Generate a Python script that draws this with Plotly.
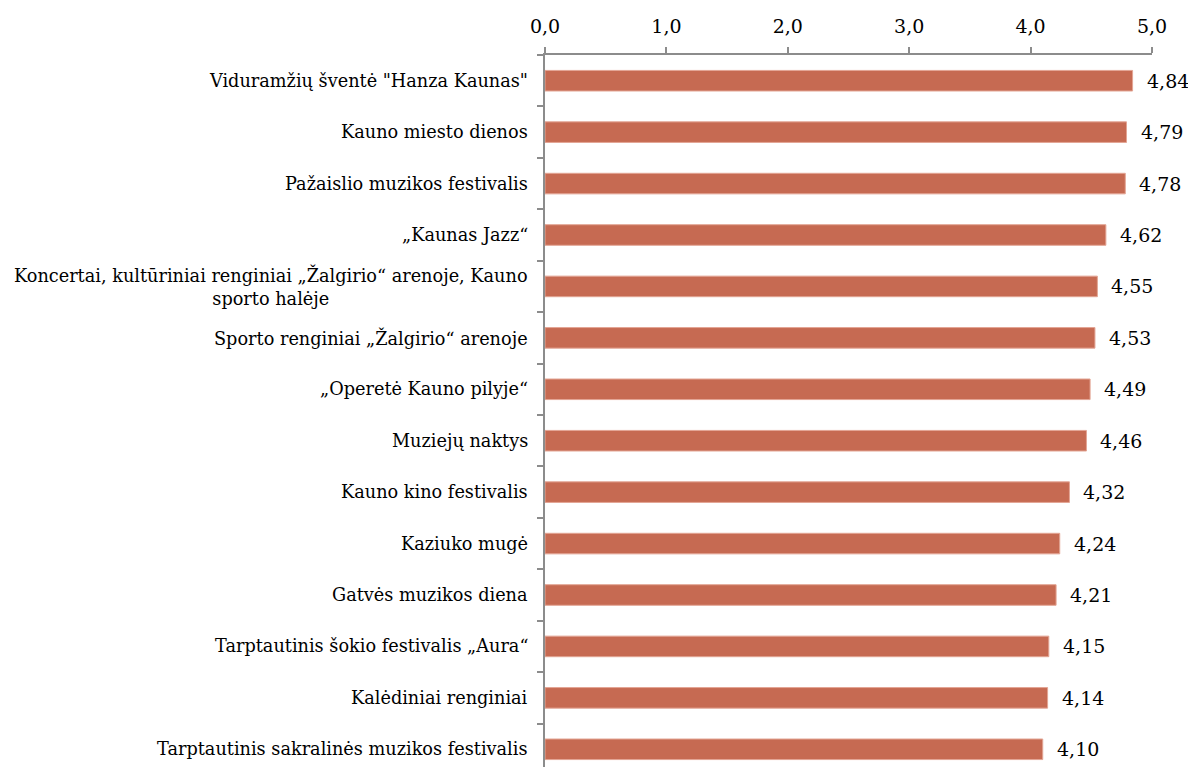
import plotly.graph_objects as go

categories = [
    'Viduramžių šventė "Hanza Kaunas"',
    "Kauno miesto dienos",
    "Pažaislio muzikos festivalis",
    "„Kaunas Jazz“",
    "Koncertai, kultūriniai renginiai „Žalgirio“ arenoje, Kauno<br>sporto halėje",
    "Sporto renginiai „Žalgirio“ arenoje",
    "„Operetė Kauno pilyje“",
    "Muziejų naktys",
    "Kauno kino festivalis",
    "Kaziuko mugė",
    "Gatvės muzikos diena",
    "Tarptautinis šokio festivalis „Aura“",
    "Kalėdiniai renginiai",
    "Tarptautinis sakralinės muzikos festivalis",
]
values = [4.84, 4.79, 4.78, 4.62, 4.55, 4.53, 4.49, 4.46, 4.32, 4.24, 4.21, 4.15, 4.14, 4.10]
tick_vals = [0, 1, 2, 3, 4, 5]

FONT = "DejaVu Serif"
fig = go.Figure()
fig.add_trace(go.Bar(
    x=values, y=list(range(len(categories))), orientation="h",
    width=0.4,
    marker=dict(color="#C66A52", line=dict(color="#E3A594", width=1)),
    hoverinfo="x",
))

annotations = []
for i, (c, v) in enumerate(zip(categories, values)):
    annotations.append(dict(
        x=0, xref="paper", y=i, yref="y", text=c, showarrow=False,
        xanchor="right", yanchor="middle", xshift=-15, align="center",
        font=dict(family=FONT, size=17.7, color="#000"),
    ))
    annotations.append(dict(
        x=v, xref="x", y=i, yref="y", text=f"{v:.2f}".replace(".", ","),
        showarrow=False, xanchor="left", yanchor="middle", xshift=12,
        font=dict(family=FONT, size=19, color="#000"),
    ))

fig.update_layout(
    width=1196, height=767,
    margin=dict(l=537, r=52, t=47, b=0),
    plot_bgcolor="white", paper_bgcolor="white",
    separators=", ",
    showlegend=False,
    annotations=annotations,
    xaxis=dict(
        side="top", range=[0, 5], tickvals=tick_vals, tickformat=".1f",
        showgrid=False, zeroline=False, showline=True, linecolor="#8C8C8C",
        linewidth=1.5, ticks="outside", ticklen=6, tickwidth=1.5, tickcolor="#8C8C8C",
        ticklabelstandoff=7,
        tickfont=dict(family=FONT, size=19, color="#000"),
    ),
    yaxis=dict(
        range=[len(categories) - 0.5, -0.5],
        tickvals=[i + 0.5 for i in range(-1, len(categories))],
        showticklabels=False,
        showgrid=False, zeroline=False, showline=True, linecolor="#8C8C8C",
        linewidth=1.5, ticks="outside", ticklen=6, tickwidth=1.5, tickcolor="#8C8C8C",
    ),
)
fig.write_html("out.html")
